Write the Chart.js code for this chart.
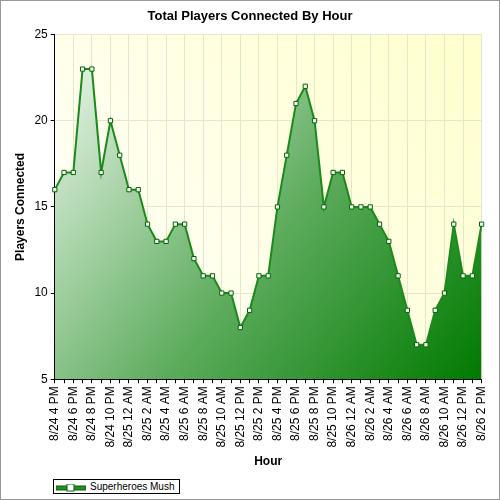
<!DOCTYPE html>
<html>
<head>
<script src="https://cdn.jsdelivr.net/npm/chart.js@4"></script>
<style>
body{margin:0;background:#fff;font-family:"Liberation Sans",Arial,sans-serif;}
#wrap{position:relative;width:498px;height:498px;border:1px solid #999;}
#legend{position:absolute;left:52px;top:478px;border:1px solid #000;font-size:10px;padding:1px 4px 1px 2px;display:flex;align-items:center;background:#fff;}
#legend span.sw{display:inline-block;width:30px;height:8px;position:relative;margin-right:4px;}
</style>
</head>
<body>
<div id="wrap">
<canvas id="c" width="498" height="478"></canvas>
<div id="legend"><span class="sw"><svg width="30" height="8"><rect x="0" y="2" width="30" height="4" fill="#2a8a2a" stroke="#006400"/><rect x="11" y="0" width="7" height="7" fill="#fff" stroke="#006400"/></svg></span>Superheroes Mush</div>
</div>
<script>
// =========================
// DATA
// =========================

const labels = [
 "8/24 4 PM","8/24 5 PM","8/24 6 PM","8/24 7 PM","8/24 8 PM","8/24 9 PM","8/24 10 PM","8/24 11 PM",
 "8/25 12 AM","8/25 1 AM","8/25 2 AM","8/25 3 AM","8/25 4 AM","8/25 5 AM","8/25 6 AM","8/25 7 AM",
 "8/25 8 AM","8/25 9 AM","8/25 10 AM","8/25 11 AM","8/25 12 PM","8/25 1 PM","8/25 2 PM","8/25 3 PM",
 "8/25 4 PM","8/25 5 PM","8/25 6 PM","8/25 7 PM","8/25 8 PM","8/25 9 PM","8/25 10 PM","8/25 11 PM",
 "8/26 12 AM","8/26 1 AM","8/26 2 AM","8/26 3 AM","8/26 4 AM","8/26 5 AM","8/26 6 AM","8/26 7 AM",
 "8/26 8 AM","8/26 9 AM","8/26 10 AM","8/26 11 AM","8/26 12 PM","8/26 1 PM","8/26 2 PM"
];

const players = [16,17,17,23,23,17,20,18,16,16,14,13,13,14,14,12,11,11,10,10,
                 8,9,11,11,15,18,21,22,20,15,17,17,15,15,15,14,13,11,9,7,
                 7,9,10,14,11,11,14];

// =========================
// CHART
// =========================

const bgPlugin = {
  id:"bg",
  beforeDraw(chart){
    const a = chart.chartArea, ctx = chart.ctx;
    const g = ctx.createLinearGradient(a.left, a.bottom, a.right, a.top);
    g.addColorStop(0,"#ffffff");
    g.addColorStop(1,"#ffffcc");
    ctx.save();
    ctx.fillStyle = g;
    ctx.fillRect(a.left, a.top, a.right-a.left, a.bottom-a.top);
    ctx.restore();
  }
};

new Chart(document.getElementById("c"),{
  type:"line",
  data:{
    labels,
    datasets:[{
      label:"Superheroes Mush",
      data:players,
      borderColor:"#1a8a1a",
      borderWidth:2,
      pointBackgroundColor:"#fff",
      pointBorderColor:"#006400",
      pointBorderWidth:1,
      pointStyle:"rect",
      pointRadius:3,
      tension:0,
      fill:"start",
      backgroundColor(ctx){
        const a = ctx.chart.chartArea;
        if(!a) return "#5a5";
        const g = ctx.chart.ctx.createLinearGradient(a.left, a.top, a.right, a.bottom);
        g.addColorStop(0,"#f4fbf4");
        g.addColorStop(0.55,"#5cab5c");
        g.addColorStop(1,"#007a00");
        return g;
      }
    }]
  },
  options:{
    responsive:false,
    animation:false,
    layout:{padding:{left:8,right:8,top:0,bottom:6}},
    plugins:{
      legend:{display:false},
      tooltip:{enabled:false},
      title:{display:true,text:"Total Players Connected By Hour",color:"#000",
        font:{family:"Liberation Sans",size:13,weight:"bold"},padding:{top:8,bottom:10}}
    },
    scales:{
      x:{
        offset:false,
        grid:{color:(c)=> c.index%2===0 ? "#e6e6c8" : "rgba(0,0,0,0)",tickLength:4,tickColor:"#000"},
        border:{color:"#000"},
        ticks:{autoSkip:false,maxRotation:90,minRotation:90,color:"#000",
          font:{family:"Liberation Sans",size:12},
          callback(v,i){return i%2===0 ? labels[i] : "";}},
        title:{display:true,text:"Hour",color:"#000",font:{family:"Liberation Sans",size:12,weight:"bold"}}
      },
      y:{
        min:5,max:25,
        grid:{color:"#e6e6c8",tickLength:4,tickColor:"#000"},
        border:{color:"#000"},
        ticks:{stepSize:5,color:"#000",font:{family:"Liberation Sans",size:12}},
        title:{display:true,text:"Players Connected",color:"#000",font:{family:"Liberation Sans",size:12,weight:"bold"}}
      }
    }
  },
  plugins:[bgPlugin]
});
</script>
</body>
</html>
